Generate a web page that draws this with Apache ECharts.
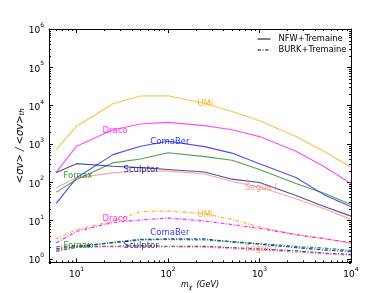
<!DOCTYPE html>
<html><head><meta charset="utf-8">
<script src="https://cdn.jsdelivr.net/npm/echarts@6/dist/echarts.min.js"></script>
<style>html,body{margin:0;padding:0;background:#fff}#c{width:390px;height:293px}</style>
</head><body><div id="c"></div>
<script>
// ---- data ----
const masses = [6, 10, 25, 50, 100, 250, 500, 1000, 2500, 5000, 10000];

const umiNFW      = [710, 2900, 11200, 17800, 18000, 11500, 7000, 4000, 1550, 650, 245];
const dracoNFW    = [180, 870, 2350, 3300, 3650, 3000, 2350, 1550, 640, 260, 92];
const comaNFW     = [28, 130, 525, 870, 1170, 850, 575, 305, 132, 48, 23];
const fornaxNFW   = [55, 117, 320, 405, 585, 465, 375, 215, 92, 52, 26];
const sculptorNFW = [180, 305, 260, 240, 215, 185, 120, 98, 45, 23.5, 13];
const segueNFW    = [72, 130, 175, 195, 195, 163, 104, 75, 37, 20.5, 10.7];

const umiBURK      = [3.3, 5.8, 9.6, 17, 17.7, 15.2, 10.6, 6.8, 4.2, 3.3, 2.6];
const dracoBURK    = [2.6, 5.2, 8.9, 10.3, 11.6, 9.7, 7.8, 6.2, 4.3, 3.4, 2.6];
const comaBURK     = [1.58, 2.0, 2.7, 3.2, 3.3, 3.3, 2.75, 2.4, 1.97, 1.7, 1.55];
const fornaxBURK   = [2.05, 2.2, 2.6, 3.1, 3.2, 3.1, 2.8, 2.5, 2.1, 1.9, 1.65];
const sculptorBURK = [1.8, 2.1, 2.1, 2.2, 2.1, 2.1, 1.94, 1.8, 1.6, 1.4, 1.3];
const segueBURK    = [1.7, 2.0, 2.05, 2.1, 2.05, 2.0, 1.85, 1.7, 1.5, 1.35, 1.22];

const galaxyNames = ['UMi', 'Draco', 'ComaBer', 'Fornax', 'Sculptor', 'Segue I'];
const legendNames = ['NFW+Tremaine', 'BURK+Tremaine'];

// in-plot label anchors (data units: mass, ratio) for solid and dash-dot families
const labelMassNFW  = [209, 19.2, 64, 7.2, 32.6, 698];
const labelValNFW   = [11270, 2225, 1150, 150, 215, 72];
const labelMassBURK = [209, 19.2, 64, 7.2, 32.6, 698];
const labelValBURK  = [14.3, 11.3, 4.7, 2.2, 2.2, 1.8];

const xMinor = [6,7,8,9,20,30,40,50,60,70,80,90,200,300,400,500,600,700,800,900,2000,3000,4000,5000,6000,7000,8000,9000];
const yMinor = [];
[0.1,1,10,100,1000,10000,100000].forEach(d => { for (let k = 2; k <= 9; k++) { const v = d * k; if (v >= 0.8 && v <= 1e6) yMinor.push(v); } });

// ---- styling ----
const colors = ['#ffa500', '#ff00ff', '#0000ff', '#008000', '#000080', '#fa8072'];
const nfwSets = [umiNFW, dracoNFW, comaNFW, fornaxNFW, sculptorNFW, segueNFW];
const burkSets = [umiBURK, dracoBURK, comaBURK, fornaxBURK, sculptorBURK, segueBURK];
const dashDot = [3.5, 1.6, 1, 1.6];
const FONT = 'DejaVu Sans';

const series = [];
nfwSets.forEach((arr, i) => {
  series.push({
    type: 'line', name: galaxyNames[i] + ' NFW', data: masses.map((m, j) => [m, arr[j]]),
    symbol: 'none', silent: true, z: 3,
    lineStyle: { color: colors[i], width: 1.1, opacity: 0.7 }
  });
});
burkSets.forEach((arr, i) => {
  series.push({
    type: 'line', name: galaxyNames[i] + ' BURK', data: masses.map((m, j) => [m, arr[j]]),
    symbol: 'none', silent: true, z: 3,
    lineStyle: { color: colors[i], width: 1.3, opacity: 0.8, type: dashDot }
  });
});
// legend-only series
series.push({ type: 'line', name: legendNames[0], data: [], symbol: 'none', color: '#000', lineStyle: { color: '#000', width: 1 } });
series.push({ type: 'line', name: legendNames[1], data: [], symbol: 'none', color: '#000', lineStyle: { color: '#000', width: 1, type: dashDot } });

// labels
const labelData = [];
galaxyNames.forEach((n, i) => {
  labelData.push({ value: [labelMassNFW[i], labelValNFW[i]], name: n, label: { color: colors[i] } });
  labelData.push({ value: [labelMassBURK[i], labelValBURK[i]], name: n, label: { color: colors[i] } });
});
series.push({
  type: 'scatter', data: labelData, symbolSize: 0, silent: true, z: 5,
  label: { show: true, position: 'right', distance: 0, formatter: p => p.name, fontFamily: FONT, fontSize: 8.5 }
});

// minor ticks
function minorTicks(isX) {
  return function (params, api) {
    const cs = params.coordSys;
    const v = api.value(isX ? 0 : 1);
    const st = { stroke: '#000', lineWidth: 1 };
    if (isX) {
      const px = Math.round(api.coord([v, 1])[0]) + 0.5;
      const yb = cs.y + cs.height, yt = cs.y;
      return { type: 'group', children: [
        { type: 'line', shape: { x1: px, y1: yb, x2: px, y2: yb - 2 }, style: st },
        { type: 'line', shape: { x1: px, y1: yt, x2: px, y2: yt + 2 }, style: st }
      ] };
    } else {
      const py = Math.round(api.coord([10, v])[1]) + 0.5;
      const xl = cs.x, xr = cs.x + cs.width;
      return { type: 'group', children: [
        { type: 'line', shape: { x1: xl, y1: py, x2: xl + 2, y2: py }, style: st },
        { type: 'line', shape: { x1: xr, y1: py, x2: xr - 2, y2: py }, style: st }
      ] };
    }
  };
}
series.push({ type: 'custom', renderItem: minorTicks(true), data: xMinor.map(v => [v, 1]), silent: true, z: 6, clip: false });
series.push({ type: 'custom', renderItem: minorTicks(false), data: yMinor.map(v => [10, v]), silent: true, z: 6, clip: false });

function powLabel(v) {
  const l = Math.log10(v), e = Math.round(l);
  if (Math.abs(l - e) > 1e-6) return '';
  return '{b|10}{s|' + e + '}';
}
const richPow = {
  b: { fontFamily: FONT, fontSize: 9, color: '#000', lineHeight: 13, verticalAlign: 'bottom' },
  s: { fontFamily: FONT, fontSize: 6, color: '#000', lineHeight: 13, verticalAlign: 'top' }
};
const axisLineStyle = { show: true, lineStyle: { color: '#000', width: 1 } };
const tickStyle = { show: true, inside: true, length: 4, lineStyle: { color: '#000', width: 1 } };

const option = {
  animation: false,
  backgroundColor: '#fff',
  textStyle: { fontFamily: FONT },
  grid: { left: 49, right: 39, top: 29, bottom: 30.5, containLabel: false, outerBoundsMode: 'none' },
  legend: {
    data: legendNames, orient: 'vertical', left: 257, top: 35, padding: 0, itemWidth: 13, itemHeight: 8, itemGap: 3,
    itemStyle: { opacity: 0 }, lineStyle: { width: 1 },
    textStyle: { fontFamily: FONT, fontSize: 8.3, color: '#000', padding: [0, 0, 0, 3] }, selectedMode: false
  },
  xAxis: [
    { type: 'log', logBase: 10, min: 5, max: 10000, position: 'bottom',
      name: '{i|m}{s|χ} {i|(GeV)}', nameLocation: 'middle', nameGap: 16, nameMoveOverlap: false,
      nameTextStyle: { rich: {
        i: { fontFamily: FONT, fontStyle: 'italic', fontSize: 8, color: '#000' },
        s: { fontFamily: FONT, fontStyle: 'italic', fontSize: 6, color: '#000', verticalAlign: 'bottom', padding: [4, 0, 0, 0] } } },
      axisLine: axisLineStyle, axisTick: tickStyle, splitLine: { show: false }, minorTick: { show: false },
      axisLabel: { formatter: powLabel, rich: richPow, margin: 4, showMinLabel: false } },
    { type: 'log', logBase: 10, min: 5, max: 10000, position: 'top',
      axisLine: axisLineStyle, axisTick: tickStyle, splitLine: { show: false }, axisLabel: { show: false } }
  ],
  yAxis: [
    { type: 'log', logBase: 10, min: 0.8, max: 1000000, position: 'left', splitNumber: 6,
      name: '{t|<σv> / <σv>}{s|th}', nameLocation: 'middle', nameGap: 23, nameRotate: 90, nameMoveOverlap: false,
      nameTextStyle: { rich: {
        t: { fontFamily: FONT, fontStyle: 'italic', fontSize: 10, color: '#000' },
        s: { fontFamily: FONT, fontStyle: 'italic', fontSize: 7, color: '#000', padding: [5, 0, 0, 0] } } },
      axisLine: axisLineStyle, axisTick: tickStyle, splitLine: { show: false },
      axisLabel: { formatter: powLabel, rich: richPow, margin: 5, showMinLabel: false } },
    { type: 'log', logBase: 10, min: 0.8, max: 1000000, position: 'right', splitNumber: 6,
      axisLine: axisLineStyle, axisTick: tickStyle, splitLine: { show: false }, axisLabel: { show: false } }
  ],
  series: series
};
const chart = echarts.init(document.getElementById('c'), null, { renderer: 'canvas' });
chart.setOption(option);
</script>
</body></html>
